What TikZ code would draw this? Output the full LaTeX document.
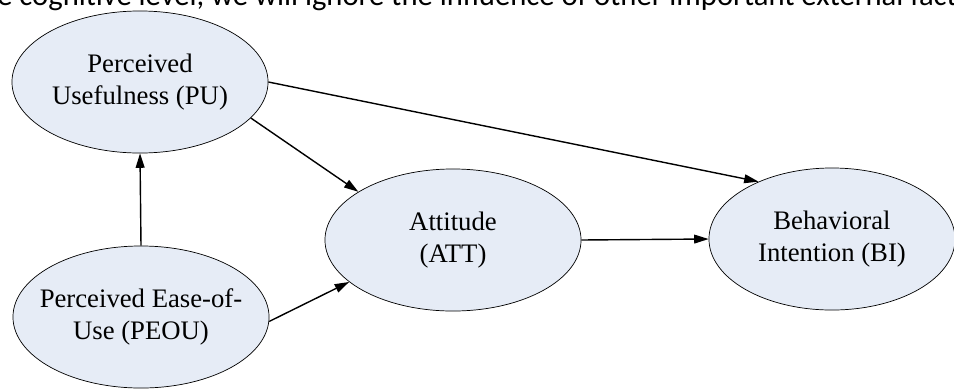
\documentclass[tikz,border=0pt]{standalone}
\usepackage{fontspec}
\setmainfont{Liberation Serif}
\newfontfamily\bodyfont{Carlito}
\usetikzlibrary{shapes.geometric,arrows.meta}
\definecolor{ovalfill}{RGB}{230,236,246}
\begin{document}
\begin{tikzpicture}[x=0.025cm,y=-0.025cm,
      construct/.style={ellipse,draw,line width=0.5pt,fill=ovalfill,
            minimum width=6.4cm,minimum height=3.55cm,inner sep=0pt,
            align=center,font=\fontsize{19}{23}\selectfont},
      link/.style={-{Triangle[length=0.36cm,width=0.22cm]},line width=1pt}]
      \useasboundingbox (0,0) rectangle (954,390);

      \node[anchor=base west,inner sep=0pt,font=\bodyfont\fontsize{21.8}{26}\selectfont]
            (runon) at (-3,5) {e cognitive level, we will ignore the influence of other important external fact};

      \node[construct] (pu) at (140,82) {Perceived\\Usefulness (PU)};
      \node[construct,inner xsep=-0.8cm] (peou) at (141,317) {Perceived Ease-of-\\Use (PEOU)};
      \node[construct] (att) at (453,240) {Attitude\\(ATT)};
      \node[construct,minimum width=6.15cm] (bi) at (832,239) {Behavioral\\Intention (BI)};

      \draw[link] (peou.north) -- (pu.south);
      \draw[link] (pu.-18) -- (att.153);
      \draw[link] (peou.-2) -- (att.202);
      \draw[link] (att.east) -- (bi.west);
      \draw[link] (pu.0) -- (bi.142);
\end{tikzpicture}
\end{document}
